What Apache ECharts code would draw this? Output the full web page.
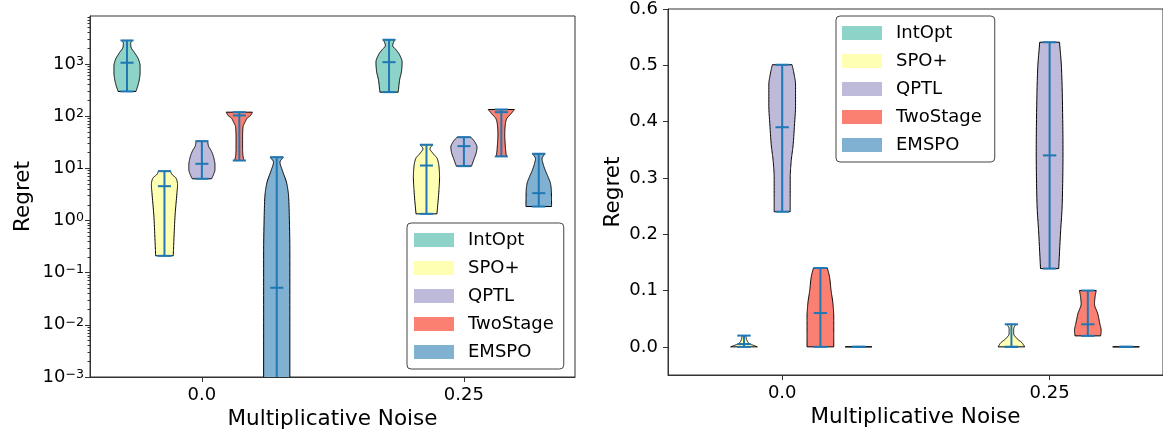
<!DOCTYPE html>
<html><head><meta charset="utf-8">
<script src="https://cdn.jsdelivr.net/npm/echarts@6/dist/echarts.min.js"></script>
<style>html,body{margin:0;padding:0;background:#fff}#c{width:1163px;height:437px}</style>
</head><body><div id="c"></div>
<script>
const FONT = 'DejaVu Sans';
const methods = ['IntOpt', 'SPO+', 'QPTL', 'TwoStage', 'EMSPO'];
const colors = ['#8dd3c7', '#ffffb3', '#bebada', '#fb8072', '#80b1d3'];
const noiseTicks = ['0.0', '0.25'];
const logTicks = [0.001, 0.01, 0.1, 1, 10, 100, 1000];
const linTicks = [0, 0.1, 0.2, 0.3, 0.4, 0.5, 0.6];

// Left panel (log scale): per method, [noise 0.0, noise 0.25]
const leftMin = [[297, 288], [0.21, 1.34], [6.3, 11], [14.1, 16.9], [1e-6, 1.85]];
const leftMax = [[2820, 2910], [8.81, 28.3], [33.1, 39.5], [119, 134], [16.3, 19]];
const leftMedian = [[1055, 1082], [4.54, 11.3], [12.2, 26.6], [103, 119], [0.0513, 3.34]];
// density profiles: [regret, relative width]
const leftDensity = [
  [[[297,.68],[393,.84],[520,.95],[687,1],[908,1],[1220,.88],[1610,.6],[2140,.3],[2500,.28],[2820,.4]],
   [[288,.7],[482,.8],[750,.96],[1082,1],[1456,.83],[1815,.58],[2260,.28],[2910,.43]]],
  [[[0.21,.67],[0.472,.73],[1.14,.8],[3.29,.95],[4.9,1],[6.38,.9],[7.79,.55],[8.81,.46]],
   [[1.34,.8],[3.76,.95],[6.76,1],[10.5,.96],[15.2,.83],[19,.52],[23.7,.27],[28.3,.47]]],
  [[[6.3,.74],[7.7,.9],[9.5,1],[11.7,1],[14.3,.95],[17.9,.85],[22,.7],[27,.5],[33.1,.44]],
   [[11,.58],[15.2,.78],[20.4,.95],[25.4,1],[31.7,.84],[39.5,.53]]],
  [[[14.1,.35],[18.4,.27],[24,.25],[39.5,.25],[61.5,.28],[70.2,.36],[82.6,.5],[91.4,.6],[103,.86],[119,1]],
   [[16.9,.38],[25.4,.31],[45.9,.26],[71.3,.31],[89,.41],[111,.74],[134,1]]],
  [[[1e-6,1],[0.001,1],[0.266,1],[1.16,.96],[2.8,.91],[5.05,.77],[9.1,.43],[13.1,.25],[16.3,.5]],
   [[1.85,.98],[3.76,.96],[5.05,.9],[6.76,.72],[9.1,.5],[12.2,.33],[15.2,.25],[19,.47]]]
];

// Right panel (linear scale)
const rightMin = [[null, null], [0, 0], [0.24, 0.139], [0, 0.0195], [0, 0]];
const rightMax = [[null, null], [0.02, 0.04], [0.501, 0.541], [0.14, 0.1], [0, 0]];
const rightMedian = [[null, null], [0.005, 0], [0.39, 0.34], [0.06, 0.04], [0, 0]];
const rightDensity = [
  [[], []],
  [[[0,1],[0.002,.8],[0.004,.55],[0.007,.35],[0.01,.25],[0.015,.17],[0.02,.15]],
   [[0,1],[0.007,.8],[0.0148,.41],[0.0235,.17],[0.0324,.17],[0.04,.33]]],
  [[[0.24,.6],[0.265,.6],[0.3,.6],[0.329,.67],[0.359,.82],[0.394,.92],[0.429,1],[0.465,1],[0.488,.86],[0.501,.74]],
   [[0.139,.68],[0.2,.81],[0.259,.95],[0.347,1],[0.435,.96],[0.494,.89],[0.541,.74]]],
  [[[0,1],[0.0235,1],[0.053,1],[0.0765,.94],[0.1,.8],[0.1235,.69],[0.14,.52]],
   [[0.0195,.96],[0.029,1],[0.041,.9],[0.059,.74],[0.0765,.5],[0.09,.55],[0.1,.63]]],
  [[[0,1],[0,1]], [[0,1],[0,1]]]
];

const VIOLIN_HALF = 0.05;   // half of violin width (axis units)
const BAR_HALF = 0.025;     // half length of min/max/median bars
const offsets = [-2/7, -1/7, 0, 1/7, 2/7];

function pchip(t, w, nSub) {
  const n = t.length;
  if (n < 2) return t.map((v, i) => [v, w[i]]);
  const h = [], d = [];
  for (let i = 0; i < n - 1; i++) { h.push(t[i+1] - t[i]); d.push((w[i+1] - w[i]) / (t[i+1] - t[i])); }
  const m = new Array(n);
  m[0] = d[0]; m[n-1] = d[n-2];
  for (let i = 1; i < n - 1; i++) {
    if (d[i-1] * d[i] <= 0) m[i] = 0;
    else {
      const w1 = 2*h[i] + h[i-1], w2 = h[i] + 2*h[i-1];
      m[i] = (w1 + w2) / (w1 / d[i-1] + w2 / d[i]);
    }
  }
  const out = [];
  for (let i = 0; i < n - 1; i++) {
    for (let k = 0; k < nSub; k++) {
      const s = k / nSub;
      const h00 = 2*s*s*s - 3*s*s + 1, h10 = s*s*s - 2*s*s + s, h01 = -2*s*s*s + 3*s*s, h11 = s*s*s - s*s;
      out.push([t[i] + s*h[i], Math.max(0, h00*w[i] + h10*h[i]*m[i] + h01*w[i+1] + h11*h[i]*m[i+1])]);
    }
  }
  out.push([t[n-1], w[n-1]]);
  return out;
}

function makeRender(mins, maxs, meds, dens, m) {
  return function (params, api) {
    const pos = api.value(0);
    const g = api.value(2);
    const prof = dens[m][g];
    if (!prof || !prof.length) return;
    const cx = api.coord([pos, meds[m][g]])[0];
    const unit = api.coord([pos + VIOLIN_HALF, meds[m][g]])[0] - cx;
    const barU = api.coord([pos + BAR_HALF, meds[m][g]])[0] - cx;
    const yPix = prof.map(p => api.coord([pos, p[0]])[1]);
    let pts;
    const degenerate = Math.abs(yPix[yPix.length-1] - yPix[0]) < 0.5;
    if (degenerate) {
      pts = [[cx - unit * prof[0][1], yPix[0]], [cx + unit * prof[0][1], yPix[0]]];
    } else {
      const t = yPix.map(y => -y);
      const samp = pchip(t, prof.map(p => p[1]), 14);
      const right = samp.map(s => [cx + s[1] * unit, -s[0]]);
      const left = samp.slice().reverse().map(s => [cx - s[1] * unit, -s[0]]);
      pts = right.concat(left);
    }
    const yMin = api.coord([pos, mins[m][g]])[1];
    const yMax = api.coord([pos, maxs[m][g]])[1];
    const yMed = api.coord([pos, meds[m][g]])[1];
    const blue = '#1f77b4';
    const lw = 2;
    const children = [
      { type: 'polygon', shape: { points: pts }, style: { fill: colors[m], stroke: '#000', lineWidth: 1 } },
      { type: 'line', shape: { x1: cx, y1: yMin, x2: cx, y2: yMax }, style: { stroke: blue, lineWidth: lw } },
      { type: 'line', shape: { x1: cx - barU, y1: yMin, x2: cx + barU, y2: yMin }, style: { stroke: blue, lineWidth: lw } },
      { type: 'line', shape: { x1: cx - barU, y1: yMax, x2: cx + barU, y2: yMax }, style: { stroke: blue, lineWidth: lw } },
      { type: 'line', shape: { x1: cx - barU, y1: yMed, x2: cx + barU, y2: yMed }, style: { stroke: blue, lineWidth: lw } }
    ];
    return { type: 'group', children };
  };
}

const minorTicks = [];
for (let e = -3; e <= 3; e++) for (let k = 2; k <= 9; k++) minorTicks.push(k * Math.pow(10, e));

const series = [];
methods.forEach((name, m) => {
  series.push({
    type: 'custom', name, xAxisIndex: 0, yAxisIndex: 0, clip: true,
    itemStyle: { color: colors[m] },
    encode: { x: 0, y: 1 },
    renderItem: makeRender(leftMin, leftMax, leftMedian, leftDensity, m),
    data: [[0 + offsets[m], leftMedian[m][0], 0], [1 + offsets[m], leftMedian[m][1], 1]]
  });
});
methods.forEach((name, m) => {
  const data = [];
  [0, 1].forEach(g => { if (rightMedian[m][g] !== null) data.push([g + offsets[m], rightMedian[m][g], g]); });
  series.push({
    type: 'custom', name, xAxisIndex: 1, yAxisIndex: 2, clip: true,
    itemStyle: { color: colors[m] },
    encode: { x: 0, y: 1 },
    renderItem: makeRender(rightMin, rightMax, rightMedian, rightDensity, m),
    data
  });
});

const axisColor = '#333';
function xAxisCfg(grid) {
  return {
    type: 'value', gridIndex: grid, min: -0.427, max: 1.424, position: 'bottom',
    axisLine: { onZero: false, lineStyle: { color: axisColor, width: 1 } },
    splitLine: { show: false },
    axisTick: { customValues: [0, 1], length: 5, lineStyle: { color: axisColor } },
    axisLabel: { customValues: [0, 1], formatter: v => noiseTicks[Math.round(v)], fontSize: 18, color: '#000', margin: 9, fontFamily: FONT },
    name: 'Multiplicative Noise', nameLocation: 'middle', nameGap: 31,
    nameTextStyle: { fontSize: 21.5, color: '#000', fontFamily: FONT }
  };
}
const legendBase = {
  orient: 'vertical', data: methods, icon: 'rect', itemWidth: 40, itemHeight: 14, itemGap: 10,
  selectedMode: false, borderColor: '#444', borderWidth: 1, borderRadius: 4, backgroundColor: '#fff',
  itemStyle: { borderWidth: 0 },
  textStyle: { fontSize: 18, lineHeight: 18, color: '#000', fontFamily: FONT, padding: [0, 0, 0, 9] }
};

const option = {
  animation: false,
  textStyle: { fontFamily: FONT },
  grid: [
    { left: 90, top: 16, width: 485, height: 361, show: true, borderColor: axisColor, borderWidth: 1, backgroundColor: 'transparent' },
    { left: 668, top: 6, width: 497, height: 369, show: true, borderColor: axisColor, borderWidth: 1, backgroundColor: 'transparent' }
  ],
  xAxis: [xAxisCfg(0), xAxisCfg(1)],
  yAxis: [
    {
      type: 'log', logBase: 10, gridIndex: 0, min: 0.001, max: 8300, position: 'left', offset: 0,
      axisLine: { show: true, onZero: false, lineStyle: { color: axisColor } },
      splitLine: { show: false },
      axisTick: { customValues: logTicks, length: 5, lineStyle: { color: axisColor } },
      axisLabel: {
        customValues: logTicks, margin: 6,
        formatter: v => { const e = Math.round(Math.log10(v)); return '{b|10}{s|' + (e < 0 ? '\u2212' + (-e) : e) + '}'; },
        rich: {
          b: { fontSize: 18, color: '#000', fontFamily: FONT },
          s: { fontSize: 12.6, color: '#000', fontFamily: FONT, verticalAlign: 'top' }
        }
      },
      name: 'Regret', nameLocation: 'middle', nameGap: 56,
      nameTextStyle: { fontSize: 21.5, color: '#000', fontFamily: FONT }
    },
    {
      type: 'log', logBase: 10, gridIndex: 0, min: 0.001, max: 8300, position: 'left', offset: 0,
      axisLine: { show: false, onZero: false }, splitLine: { show: false }, axisLabel: { show: false },
      axisTick: { customValues: minorTicks, length: 2.5, lineStyle: { color: axisColor } }
    },
    {
      type: 'value', gridIndex: 1, min: -0.05, max: 0.6, position: 'left',
      axisLine: { show: true, onZero: false, lineStyle: { color: axisColor } },
      splitLine: { show: false },
      axisTick: { customValues: linTicks, length: 5, lineStyle: { color: axisColor } },
      axisLabel: { customValues: linTicks, formatter: v => v.toFixed(1), fontSize: 18, color: '#000', margin: 10, fontFamily: FONT },
      name: 'Regret', nameLocation: 'middle', nameGap: 44,
      nameTextStyle: { fontSize: 21.5, color: '#000', fontFamily: FONT }
    }
  ],
  legend: [
    Object.assign({}, legendBase, { left: 407, top: 223, padding: [8, 10, 8, 7] }),
    Object.assign({}, legendBase, { left: 836, top: 16, padding: [8, 13, 8, 6] })
  ],
  series
};

const chart = echarts.init(document.getElementById('c'), null, { renderer: 'canvas' });
chart.setOption(option);
</script>
</body></html>
